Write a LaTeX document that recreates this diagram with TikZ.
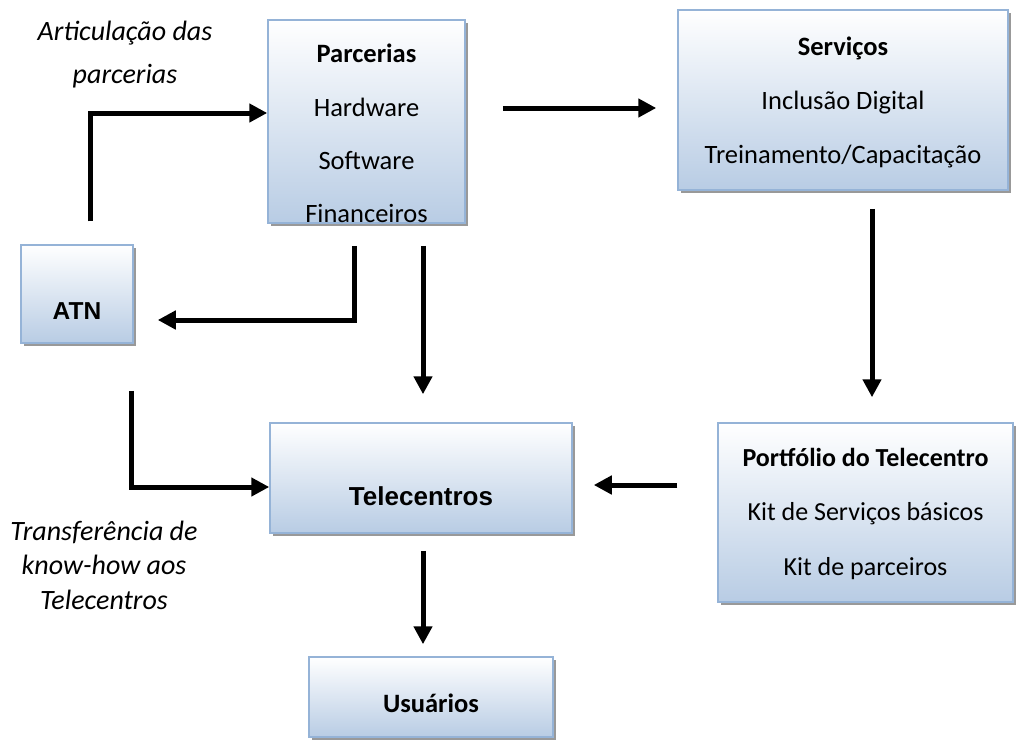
\documentclass[tikz,border=0pt]{standalone}
\usepackage{fontspec}
\setmainfont{Carlito}
\newfontfamily\arialfont{Liberation Sans}
\usepackage{tikz}
\usetikzlibrary{arrows.meta,shadows}
\definecolor{boxline}{HTML}{95B3D7}
\definecolor{boxblue}{HTML}{B8CCE4}
\newcommand{\lift}[1]{\rule{0pt}{#1pt}}
\newcommand{\sink}{\rule[-8pt]{0pt}{8pt}}
\tikzstyle{block} = [rectangle, draw=boxline, line width=1.5pt, top color=white, bottom color=boxblue, drop shadow={shadow xshift=3pt, shadow yshift=-3pt, fill=black!40, opacity=1}, align=center, inner sep=0pt]
\tikzstyle{link} = [draw, line width=5pt, -{Triangle[length=18pt,width=18pt]}]
\tikzstyle{note} = [align=center, inner sep=0pt]

\begin{document}
\begin{tikzpicture}[x=1pt,y=-1pt]
    \useasboundingbox (0,0) rectangle (1017,740);
    % First we draw the boxes
    \node[block, minimum width=197pt, minimum height=203pt, font=\fontsize{26.5}{53.3}\selectfont] (parc) at (366.5,121.5)
        {\lift{43}\textbf{Parcerias}\\Hardware\\Software\\Financeiros};
    \node[block, minimum width=330pt, minimum height=180pt, font=\fontsize{26.5}{54}\selectfont] (serv) at (843,100)
        {\lift{26}\textbf{Serviços}\\Inclusão Digital\\Treinamento/Capacitação\sink};
    \node[block, minimum width=112pt, minimum height=98pt, font=\arialfont\bfseries\fontsize{24.5}{29}\selectfont] (atn) at (77,294)
        {\lift{51}ATN};
    \node[block, minimum width=302pt, minimum height=110pt, font=\arialfont\bfseries\fontsize{26}{31}\selectfont] (tele) at (421,478)
        {\lift{55}Telecentros};
    \node[block, minimum width=295pt, minimum height=179pt, font=\fontsize{26}{54.5}\selectfont] (port) at (865.5,512.5)
        {\lift{24}\textbf{Portfólio do Telecentro}\\Kit de Serviços básicos\\Kit de parceiros\sink};
    \node[block, minimum width=244pt, minimum height=80pt, font=\bfseries\fontsize{26.5}{29}\selectfont] (usu) at (431,697)
        {\lift{32}Usuários};

    % Then the labels beside the arrows
    \node[note, font=\itshape\fontsize{28}{43}\selectfont] (artic) at (125,55) {Articulação das\\parcerias};
    \node[note, font=\itshape\fontsize{28}{34.5}\selectfont] (transf) at (104,565) {Transferência de\\know-how aos\\Telecentros};

    % Connect the boxes with arrows
    \path[link, shorten <=23pt] (atn.north -| 90,0) |- (parc.west |- 0,113);
    \path[link, shorten <=37pt, shorten >=21pt] (parc.east |- 0,108) -- (serv.west |- 0,108);
    \path[link, shorten <=18pt, shorten >=25pt] (serv.south -| 872,0) -- (port.north -| 872,0);
    \path[link, shorten <=40pt, shorten >=21pt] (port.west |- 0,485) -- (tele.east |- 0,485);
    \path[link, shorten <=22pt, shorten >=24pt] (parc.south -| 354,0) |- (atn.east |- 0,320);
    \path[link, shorten <=22pt, shorten >=28pt] (parc.south -| 423,0) -- (tele.north -| 423,0);
    \path[link, shorten <=47pt] (atn.south -| 131,0) |- (tele.west |- 0,487);
    \path[link, shorten <=17pt, shorten >=12pt] (tele.south -| 423,0) -- (usu.north -| 423,0);
\end{tikzpicture}
\end{document}
